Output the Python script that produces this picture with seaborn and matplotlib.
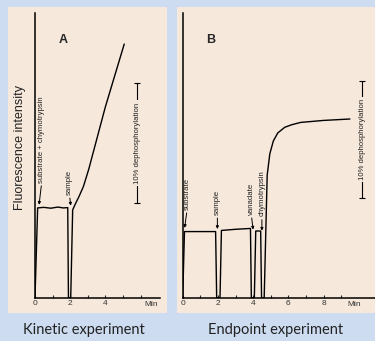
import matplotlib
matplotlib.use('Agg')
import matplotlib.pyplot as plt
import seaborn as sns
import pandas as pd
from matplotlib.patches import Rectangle

# panel A - kinetic experiment (minutes, fluorescence in % of axis)
kin_min = [0, 0.15, 0.5, 0.9, 1.3, 1.6, 1.86, 1.9, 2.03, 2.14, 2.3, 2.5, 2.75, 3.05, 4.0, 5.07]
kin_fl = [0, 31.5, 31.7, 31.4, 31.8, 31.5, 31.6, 0, 0, 30.8, 33.0, 35.5, 39.0, 45.0, 67.0, 89.0]

# panel B - endpoint experiment
end_min = [0, 0.1, 1.0, 1.87, 1.93, 2.12, 2.2, 3.0, 3.85, 3.9, 4.07, 4.15, 4.43, 4.48,
           4.6, 4.63, 4.8, 4.95, 5.15, 5.4, 5.8, 6.2, 6.7, 8.0, 9.5]
end_fl = [0, 23.2, 23.2, 23.2, 0, 0, 23.6, 24.0, 24.3, 0, 0, 23.4, 23.4, 0,
          0, 0, 43.0, 50.5, 55.0, 57.8, 59.8, 60.7, 61.5, 62.2, 62.7]

# additions: label, text x, text bottom y, arrow tip x, arrow tip y
kin_marks = [('substrate + chymotrypsin', 0.38, 40.4, 0.23, 32.6),
             ('sample', 1.96, 36.1, 2.03, 32.3)]
end_marks = [('substrate', 0.25, 30.9, 0.11, 24.5),
             ('sample', 1.97, 29.1, 1.97, 24.1),
             ('vanadate', 3.9, 29.1, 4.0, 23.9),
             ('chymotrypsin', 4.5, 28.5, 4.5, 23.5)]

kin_ticks = [0, 1, 2, 3, 4, 5, 6]
kin_labels = ['0', '', '2', '', '4', '', '']
end_ticks = [0, 1, 2, 3, 4, 5, 6, 7, 8, 9]
end_labels = ['0', '', '2', '', '4', '', '6', '', '8', '']

BLUE = '#cddcf0'
BEIGE = '#f6e8da'
SMALL = 5.6

sns.set_theme(style='white')
plt.rcParams['font.family'] = ['Liberation Sans', 'DejaVu Sans']

W, H = 375, 341
fig = plt.figure(figsize=(W / 100, H / 100), dpi=100, facecolor=BLUE)

def px_rect(x0, y0, x1, y1):
    return Rectangle((x0 / W, 1 - y1 / H), (x1 - x0) / W, (y1 - y0) / H,
                     transform=fig.transFigure, facecolor=BEIGE, edgecolor='none', zorder=-5)

fig.patches.append(px_rect(8, 7, 167, 313))
fig.patches.append(px_rect(177, 7, 375, 313))

scale = 17.6  # px per minute
axA = fig.add_axes([35 / W, (H - 297.7) / H, 125 / W, 285 / H])
axB = fig.add_axes([182.7 / W, (H - 297.7) / H, (W - 182.7) / W, 285 / H])


def draw_panel(ax, xs, ys, marks, ticks, labels, xmax, letter, min_x, bar_x, bar_c, bar_h):
    ax.set_facecolor('none')
    ax.set_zorder(2)
    df = pd.DataFrame({'t': xs, 'f': ys})
    sns.lineplot(data=df, x='t', y='f', sort=False, estimator=None, color='black',
                 linewidth=1.0, ax=ax)
    ax.set_xlim(0, xmax)
    ax.set_ylim(0, 100)
    ax.set_xlabel('')
    ax.set_ylabel('')
    ax.set_yticks([])
    ax.set_xticks(ticks)
    ax.set_xticklabels(labels)
    ax.tick_params(axis='x', direction='in', length=2.5, width=0.8, pad=2,
                   labelsize=6, labelcolor='#333333', bottom=True)
    for s in ['top', 'right']:
        ax.spines[s].set_visible(False)
    for s in ['left', 'bottom']:
        ax.spines[s].set_linewidth(1.1)
        ax.spines[s].set_color('black')
    ax.text(min_x, -0.012, 'Min', transform=ax.get_xaxis_transform(), ha='center', va='top',
            fontsize=6, color='#333333')
    ax.text(1.6, 90.5, letter, ha='center', va='center', fontsize=9, fontweight='bold')
    for lab, tx, ty, ax_, ay in marks:
        ax.annotate(lab, xy=(ax_, ay), xytext=(tx, ty), rotation=90, ha='center', va='bottom',
                    fontsize=SMALL, color='#222222',
                    arrowprops=dict(arrowstyle='-|>', lw=0.7, color='black',
                                    mutation_scale=4, shrinkA=0, shrinkB=0,
                                    relpos=(0.5, 0)))
    ax.errorbar([bar_x], [bar_c], yerr=[bar_h], fmt='none', ecolor='black',
                elinewidth=0.8, capsize=2, capthick=0.8)
    ax.text(bar_x, bar_c, '10% dephosphorylation', rotation=90, ha='center', va='center',
            fontsize=SMALL, color='#222222',
            bbox=dict(facecolor=BEIGE, edgecolor='none', pad=1.5))


draw_panel(axA, kin_min, kin_fl, kin_marks, kin_ticks, kin_labels, 125 / scale, 'A',
           6.6, 5.8, 54.3, 21.0)
draw_panel(axB, end_min, end_fl, end_marks, end_ticks, end_labels, (W - 182.7) / scale, 'B',
           9.77, 10.2, 55.5, 20.4)

fig.text(20 / W, 1 - 147.5 / H, 'Fluorescence intensity', rotation=90, ha='center',
         va='center', fontsize=9, color='#222222')
fig.text(84 / W, 1 - 330 / H, 'Kinetic experiment', ha='center', va='center',
         fontsize=10.5, color='#222222', family=['Lato', 'DejaVu Sans'])
fig.text(276 / W, 1 - 330 / H, 'Endpoint experiment', ha='center', va='center',
         fontsize=10.5, color='#222222', family=['Lato', 'DejaVu Sans'])

fig.savefig('out.png', dpi=100, facecolor=BLUE)
